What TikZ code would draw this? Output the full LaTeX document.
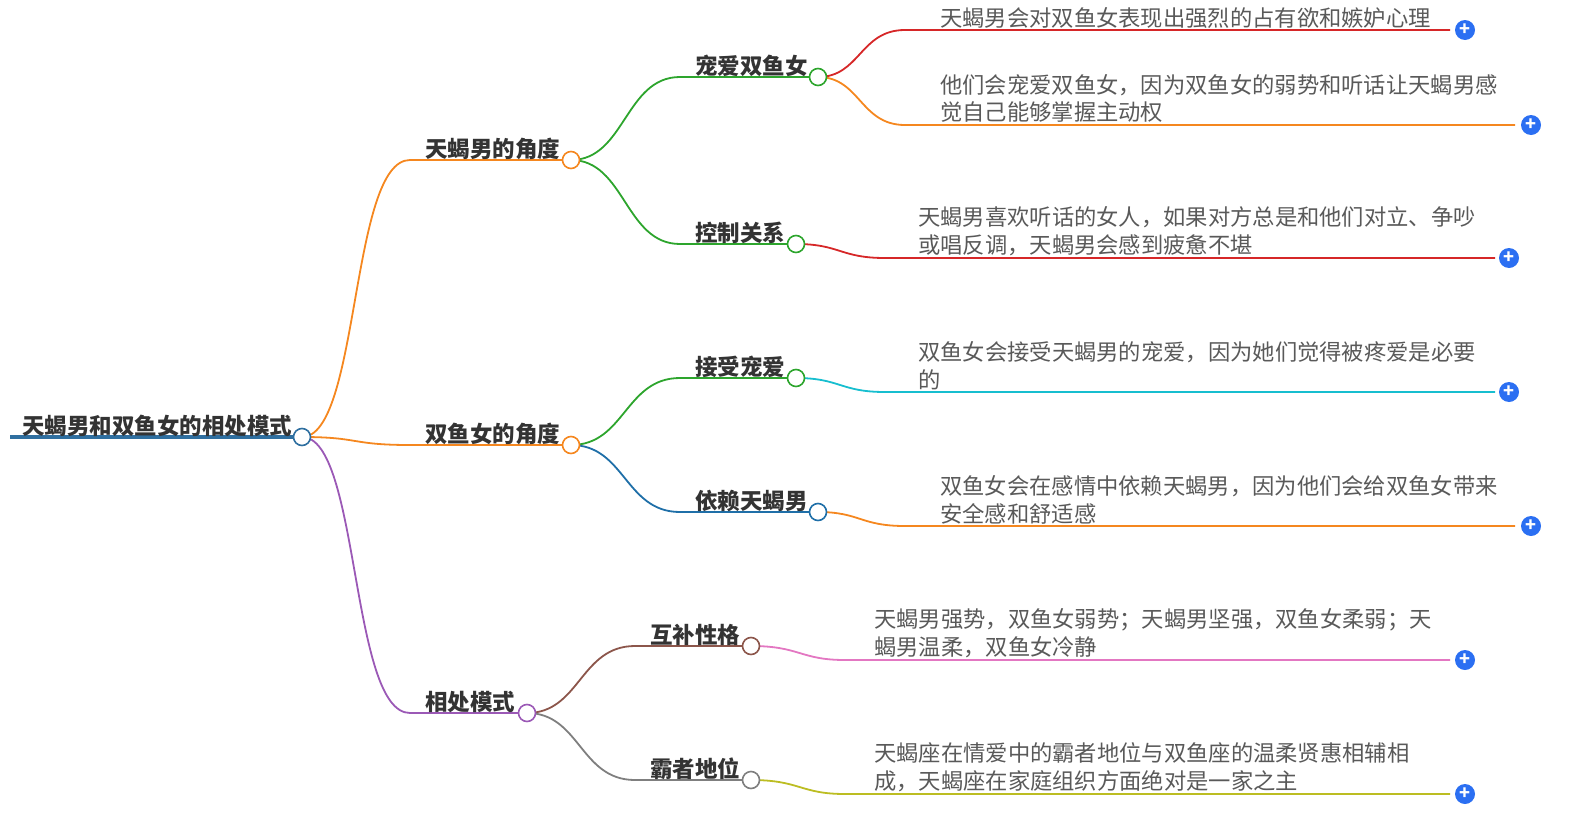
\documentclass[tikz,border=0pt]{standalone}
\usepackage{fontspec}
\setmainfont{Noto Sans CJK SC}
\begin{document}
\begin{tikzpicture}[x=1pt,y=-1pt,
  lbl/.style={font=\fontsize{22.5}{26}\selectfont\bfseries,text=black!80,anchor=south west,inner sep=0pt},
  leaf/.style={font=\fontsize{22.3}{27.5}\selectfont,text=black!65,anchor=south west,align=left,inner sep=0pt},
  dot/.style={circle,draw=#1,fill=white,line width=1.6pt,minimum size=17pt,inner sep=0pt},
  plus/.style={circle,fill=cPlus,minimum size=20pt,inner sep=0pt,text=white,font=\bfseries\fontsize{18}{18}\selectfont},
  ln/.style={line width=1.8pt,draw=#1}]
\useasboundingbox (0,0) rectangle (1572,814);
\definecolor{cOr}{HTML}{F5871F}\definecolor{cGr}{HTML}{2DA52D}\definecolor{cRe}{HTML}{D62728}
\definecolor{cBl}{HTML}{1F6FA8}\definecolor{cPu}{HTML}{9B59B6}\definecolor{cCy}{HTML}{17BECF}
\definecolor{cBr}{HTML}{8C564B}\definecolor{cGy}{HTML}{7F7F7F}\definecolor{cPk}{HTML}{E377C2}
\definecolor{cOl}{HTML}{BCBD22}\definecolor{cRoot}{HTML}{2F6FA0}\definecolor{cPlus}{HTML}{2B6FF2}
% root
\draw[line width=4pt,cRoot] (10,437) -- (302,437);
\node[lbl] (rt) at (22,437) {天蝎男和双鱼女的相处模式};
% level1 curves
\draw[ln=cOr] (302,437) .. controls (360,437) and (350,160) .. (410,160) -- (571,160);
\draw[ln=cOr] (302,437) .. controls (360,437) and (350,445) .. (410,445) -- (571,445);
\draw[ln=cPu] (302,437) .. controls (360,437) and (350,713) .. (410,713) -- (527,713);
\node[lbl] (a) at (425,160) {天蝎男的角度};
\node[lbl] (b) at (425,445) {双鱼女的角度};
\node[lbl] (c) at (425,713) {相处模式};
% level2
\draw[ln=cGr] (571,160) .. controls (625,160) and (625,77) .. (680,77) -- (818,77);
\draw[ln=cGr] (571,160) .. controls (625,160) and (625,244) .. (680,244) -- (796,244);
\draw[ln=cGr] (571,445) .. controls (625,445) and (625,378) .. (680,378) -- (796,378);
\draw[ln=cBl] (571,445) .. controls (625,445) and (625,512) .. (680,512) -- (818,512);
\draw[ln=cBr] (527,713) .. controls (580,713) and (580,646) .. (635,646) -- (751,646);
\draw[ln=cGy] (527,713) .. controls (580,713) and (580,780) .. (635,780) -- (751,780);
\node[lbl] at (695,77) {宠爱双鱼女};
\node[lbl] at (695,244) {控制关系};
\node[lbl] at (695,378) {接受宠爱};
\node[lbl] at (695,512) {依赖天蝎男};
\node[lbl] at (650,646) {互补性格};
\node[lbl] at (650,780) {霸者地位};
% leaves
\draw[ln=cRe] (818,77) .. controls (860,77) and (860,30) .. (905,30) -- (1450,30);
\draw[ln=cOr] (818,77) .. controls (860,77) and (860,125) .. (905,125) -- (1515,125);
\draw[ln=cRe] (796,244) .. controls (840,244) and (840,258) .. (885,258) -- (1495,258);
\draw[ln=cCy] (796,378) .. controls (840,378) and (840,392) .. (885,392) -- (1495,392);
\draw[ln=cOr] (818,512) .. controls (860,512) and (860,526) .. (905,526) -- (1515,526);
\draw[ln=cPk] (751,646) .. controls (800,646) and (800,660) .. (845,660) -- (1450,660);
\draw[ln=cOl] (751,780) .. controls (800,780) and (800,794) .. (845,794) -- (1450,794);
\node[leaf] at (940,29) {天蝎男会对双鱼女表现出强烈的占有欲和嫉妒心理};
\node[leaf] at (940,123) {他们会宠爱双鱼女，因为双鱼女的弱势和听话让天蝎男感\\觉自己能够掌握主动权};
\node[leaf] at (918,256) {天蝎男喜欢听话的女人，如果对方总是和他们对立、争吵\\或唱反调，天蝎男会感到疲惫不堪};
\node[leaf] at (918,390) {双鱼女会接受天蝎男的宠爱，因为她们觉得被疼爱是必要\\的};
\node[leaf] at (940,524) {双鱼女会在感情中依赖天蝎男，因为他们会给双鱼女带来\\安全感和舒适感};
\node[leaf] at (874,658) {天蝎男强势，双鱼女弱势；天蝎男坚强，双鱼女柔弱；天\\蝎男温柔，双鱼女冷静};
\node[leaf] at (874,792) {天蝎座在情爱中的霸者地位与双鱼座的温柔贤惠相辅相\\成，天蝎座在家庭组织方面绝对是一家之主};
% dots
\node[dot=cRoot] (r0) at (302,437) {};
\node[dot=cOr] (d1) at (571,160) {};
\node[dot=cOr] (d2) at (571,445) {};
\node[dot=cPu] (d3) at (527,713) {};
\node[dot=cGr] (e1) at (818,77) {};
\node[dot=cGr] (e2) at (796,244) {};
\node[dot=cGr] (e3) at (796,378) {};
\node[dot=cBl] (e4) at (818,512) {};
\node[dot=cBr] (e5) at (751,646) {};
\node[dot=cGy] (e6) at (751,780) {};
\foreach \x/\y in {1465/30,1531/125,1509/258,1509/392,1531/526,1465/660,1465/794}
  \node[plus] at (\x,\y) {+};
\end{tikzpicture}
\end{document}
